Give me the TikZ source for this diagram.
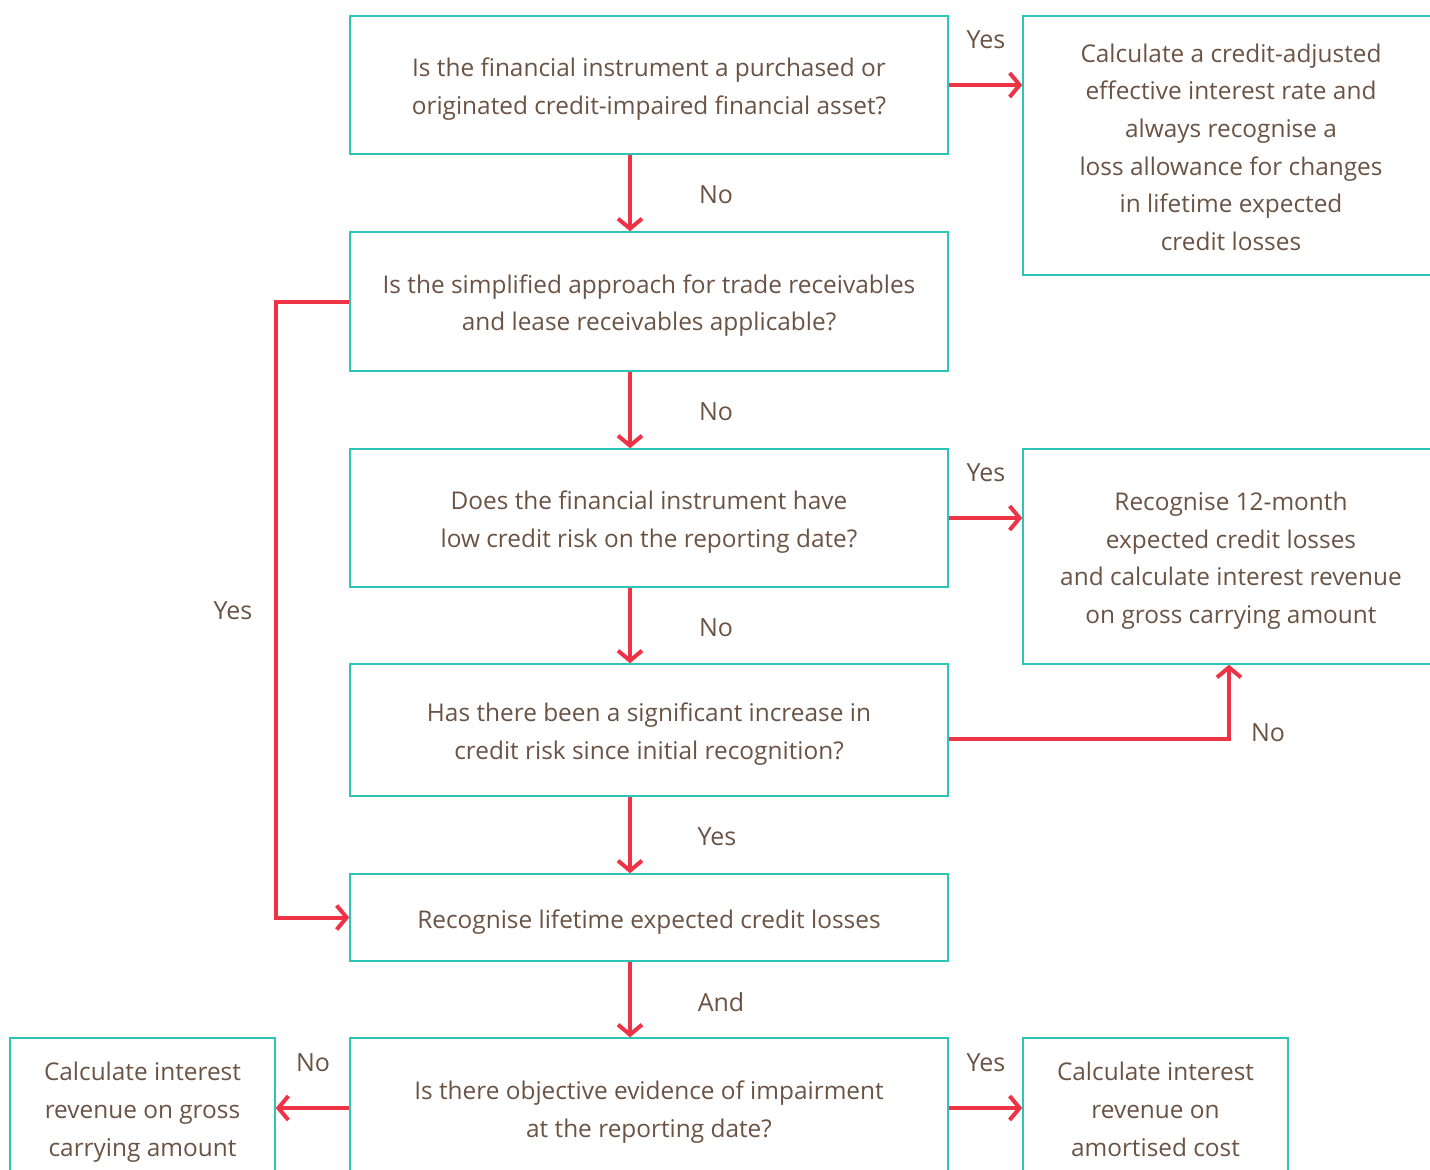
\documentclass[tikz,border=0pt]{standalone}
\usepackage{fontspec}
\setmainfont{Open Sans}
\usetikzlibrary{arrows.meta,calc}
\definecolor{teal}{HTML}{2EC4B6}
\definecolor{redarr}{HTML}{EE3347}
\definecolor{brown}{HTML}{6B5344}
\newcommand\tsA{\rule{0pt}{13.5pt}}
\newcommand\tsB{\rule{0pt}{11pt}}
\newcommand\tsC{\rule{0pt}{10.5pt}}
\tikzset{
  box/.style={draw=teal, line width=0.75pt, align=center, text=brown, font=\fontsize{12.2}{18.8}\selectfont, inner sep=0pt},
  wbox/.style={box, minimum width=299pt},
  arr/.style={draw=redarr, line width=2pt, -{Straight Barb[length=5pt, width=12pt, line width=2pt]}},
  lbl/.style={text=brown, font=\fontsize{12.5}{15}\selectfont, inner sep=0pt},
}
\begin{document}
\begin{tikzpicture}[x=0.5pt, y=-0.5pt]
\useasboundingbox (0,0) rectangle (1430,1169);
\clip (0,0) rectangle (1430,1169);
\node[wbox, minimum height=69pt] (b1) at (649,85) {\tsA Is the financial instrument a purchased or\\originated credit-impaired financial asset?};
\node[wbox, minimum height=69.5pt] (b2) at (649,301.5) {\tsA Is the simplified approach for trade receivables\\and lease receivables applicable?};
\node[wbox, minimum height=69pt] (b3) at (649,518) {\tsA Does the financial instrument have\\low credit risk on the reporting date?};
\node[wbox, minimum height=66pt] (b4) at (649,730) {\tsA Has there been a significant increase in\\credit risk since initial recognition?};
\node[wbox, minimum height=43.5pt] (b5) at (649,917.5) {\tsA Recognise lifetime expected credit losses};
\node[wbox, minimum height=70pt] (b6) at (649,1108) {\tsA Is there objective evidence of impairment\\at the reporting date?};
\node[box, minimum width=208pt, minimum height=129.5pt] (r1) at (1231,145.5) {\tsB Calculate a credit-adjusted\\effective interest rate and\\always recognise a\\loss allowance for changes\\in lifetime expected\\credit losses};
\node[box, minimum width=208pt, minimum height=107.5pt] (r2) at (1231,556.5) {\tsA Recognise 12-month\\expected credit losses\\and calculate interest revenue\\on gross carrying amount};
\node[box, minimum width=132.5pt, minimum height=70pt] (l1) at (142.5,1108) {\tsA Calculate interest\\revenue on gross\\carrying amount};
\node[box, minimum width=132.5pt, minimum height=70pt] (r3) at (1155.5,1108) {\tsC Calculate interest\\revenue on\\amortised cost};
\coordinate (ax) at (630,0);
\coordinate (nb) at (1229,739);
\draw[arr] (b1.south -| ax) -- (b2.north -| ax);
\draw[arr] (b2.south -| ax) -- (b3.north -| ax);
\draw[arr] (b3.south -| ax) -- (b4.north -| ax);
\draw[arr] (b4.south -| ax) -- (b5.north -| ax);
\draw[arr] (b5.south -| ax) -- (b6.north -| ax);
\draw[arr] (b1.east) -- (b1.east -| r1.west);
\draw[arr] (b3.east) -- (b3.east -| r2.west);
\draw[arr] (b6.east) -- (b6.east -| r3.west);
\draw[arr] (b6.west) -- (b6.west -| l1.east);
\draw[arr] (b2.west) -- ++(-73,0) |- (b5.west);
\draw[arr] (b4.east |- nb) -- (nb) -- (nb |- r2.south);
\node[lbl] (t1) at (716,195) {No};
\node[lbl] (t2) at (716,412) {No};
\node[lbl] (t3) at (716,628) {No};
\node[lbl] (t4) at (717,837) {Yes};
\node[lbl] (t5) at (721,1002) {And};
\node[lbl] (t6) at (986,40) {Yes};
\node[lbl] (t7) at (986,473) {Yes};
\node[lbl] (t8) at (986,1063) {Yes};
\node[lbl] (t9) at (313,1063) {No};
\node[lbl] (t10) at (233,611) {Yes};
\node[lbl] (t11) at (1268,733) {No};
\end{tikzpicture}
\end{document}
